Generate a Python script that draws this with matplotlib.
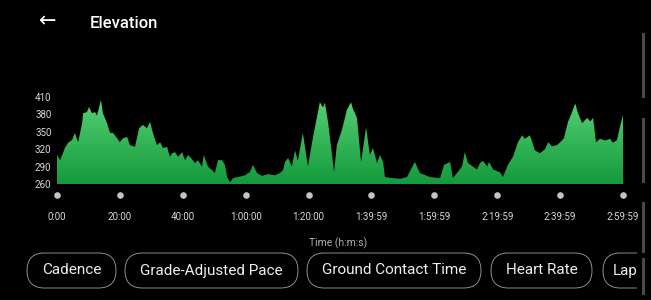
import numpy as np
import matplotlib
matplotlib.use("Agg")
import matplotlib.pyplot as plt
from matplotlib.patches import FancyBboxPatch, Rectangle
from matplotlib.transforms import offset_copy

plt.rcParams['font.family'] = ['Roboto', 'DejaVu Sans']

# elevation profile, time in minutes
t_min = [0, 1.0, 2.5, 3.5, 4.8, 5.7, 6.7, 8.0, 8.3, 9.5, 10.2, 11.1, 12.1, 12.7, 14.0, 14.6,
         15.9, 16.9, 17.8, 19.1, 20.0, 21.0, 22.3, 23.2, 24.8, 26.1, 27.3, 28.6, 29.6, 30.5,
         31.8, 32.8, 33.7, 35.0, 35.9, 36.6, 37.5, 38.5, 39.8, 40.7, 41.7, 42.9, 43.9, 44.8,
         46.1, 46.7, 48.0, 49.3, 50.2, 51.2, 52.5, 53.4, 54.1, 55.0, 56.0, 57.6, 59.8, 61.4,
         62.3, 63.6, 65.2, 67.1, 69.3, 70.9, 71.9, 72.5, 73.5, 74.7, 75.7, 76.6, 78.2, 79.8,
         81.4, 83.6, 84.6, 85.2, 86.2, 88.1, 89.0, 90.6, 92.2, 93.5, 94.1, 95.4, 96.7, 98.3,
         99.5, 100.5, 101.8, 102.7, 103.7, 104.3, 106.9, 109.1, 111.3, 113.8, 115.4, 118.6,
         121.8, 123.1, 125.0, 125.9, 127.2, 128.8, 129.7, 130.7, 132.3, 133.6, 134.5, 135.5,
         136.8, 137.4, 138.7, 140.9, 141.8, 143.4, 145.0, 146.6, 147.9, 148.8, 150.4, 152.0,
         153.6, 155.2, 156.2, 157.4, 159.0, 160.6, 161.2, 162.5, 163.8, 164.8, 165.7, 167.0,
         168.6, 169.6, 170.5, 171.4, 172.7, 174.3, 175.9, 176.8, 178.1, 179.0, 180.0]
elev = [310, 301, 322, 331, 336, 348, 332, 365, 382, 384, 393, 382, 384, 378, 405, 382,
        365, 348, 348, 339, 332, 339, 341, 327, 324, 356, 362, 356, 367, 348,
        327, 332, 322, 324, 307, 313, 315, 307, 315, 301, 310, 303, 296, 301,
        290, 310, 290, 284, 279, 301, 301, 293, 272, 263, 270, 272, 275, 281,
        293, 279, 274, 277, 275, 279, 284, 298, 305, 290, 318, 300, 348, 290,
        340, 401, 392, 400, 367, 281, 327, 353, 388, 401, 390, 374, 298, 358,
        310, 322, 296, 310, 298, 272, 270, 269, 272, 298, 279, 272,
        270, 293, 298, 270, 279, 290, 315, 296, 290, 285, 296, 300,
        290, 298, 285, 280, 272, 293, 307, 332, 344, 338, 344, 318,
        313, 320, 332, 325, 327, 335, 339, 367, 384, 399, 382, 365,
        374, 368, 374, 332, 338, 335, 338, 331, 336, 358, 379]

y_ticks = [260, 290, 320, 350, 380, 410]
x_ticks = [0, 20, 40, 60, 80, 100, 120, 140, 160, 180]
x_labels = ['0:00', '20:00', '40:00', '1:00:00', '1:20:00', '1:39:59',
            '1:59:59', '2:19:59', '2:39:59', '2:59:59']
chips = ['Cadence', 'Grade-Adjusted Pace', 'Ground Contact Time', 'Heart Rate', 'Lap']

fig = plt.figure(figsize=(6.51, 3.0), dpi=100, facecolor='black')
ax = fig.add_axes([57 / 651, 116 / 300, 566 / 651, 87 / 300], facecolor='black')

# gradient fill clipped to the area under the profile
poly = ax.fill_between(t_min, 260, elev, color='none', lw=0)
grad = np.linspace(0, 1, 256).reshape(-1, 1)
cmap = matplotlib.colors.LinearSegmentedColormap.from_list('g', ['#139a3a', '#58d276'])
img = ax.imshow(grad, extent=[0, 180, 260, 410], origin='lower', aspect='auto', cmap=cmap)
img.set_clip_path(poly.get_paths()[0], transform=ax.transData)

ax.set_xlim(0, 180)
ax.set_ylim(260, 410)
for s in ax.spines.values():
    s.set_visible(False)
ax.set_yticks(y_ticks)
ax.set_xticks(x_ticks)
ax.set_xticklabels(x_labels)
ax.tick_params(axis='y', length=0, pad=4, labelsize=7, labelcolor='#d8d8d8')
ax.tick_params(axis='x', length=0, pad=20, labelsize=7, labelcolor='#d8d8d8')

dot_tr = offset_copy(ax.get_xaxis_transform(), fig=fig, y=-11, units='dots')
ax.scatter(x_ticks, [0] * len(x_ticks), s=14, color='#c4c4c4', transform=dot_tr,
           clip_on=False, zorder=5)

# overlay in pixel coordinates for the app chrome
ov = fig.add_axes([0, 0, 1, 1], facecolor='none')
ov.set_xlim(0, 651)
ov.set_ylim(300, 0)
ov.axis('off')

ov.text(48, 22, '\u2190', color='white', fontsize=15, ha='center', va='center')
ov.text(90, 23, 'Elevation', color='white', fontsize=12, ha='left', va='center',
        fontweight='medium')
ov.text(338, 243, 'Time (h:m:s)', color='#b0b0b0', fontsize=7.5, ha='center', va='center')

chip_x = [(27, 116), (125, 298), (307, 481), (491, 592), (603, 690)]
for label, (x0, x1) in zip(chips, chip_x):
    ov.add_patch(FancyBboxPatch((x0, 253), x1 - x0, 35,
                                boxstyle='round,pad=0,rounding_size=17.5',
                                fc='black', ec='#8c8c8c', lw=0.7))
    if label == 'Lap':
        ov.text(x0 + 10, 270.5, label, color='#eeeeee', fontsize=11, ha='left', va='center')
    else:
        ov.text((x0 + x1) / 2, 270.5, label, color='#eeeeee', fontsize=11,
                ha='center', va='center')

ov.add_patch(Rectangle((637, 245), 20, 55, fc='black', ec='none'))
for y0, y1 in [(33, 98), (118, 183), (202, 253), (258, 295)]:
    ov.add_patch(Rectangle((642, y0), 3, y1 - y0, fc='#4a4a4a', ec='none'))

fig.savefig('out.png', dpi=100, facecolor='black')
